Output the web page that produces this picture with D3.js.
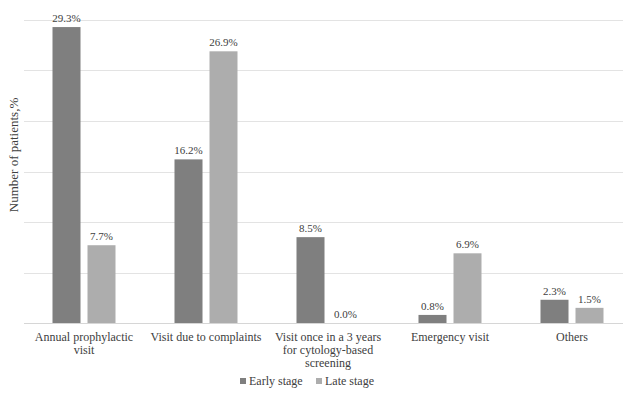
<!DOCTYPE html>
<html>
<head>
<meta charset="utf-8">
<script src="https://cdn.jsdelivr.net/npm/d3@7"></script>
<style>
  body { margin: 0; background: #fff; }
  svg { display: block; }
  svg text { font-family: "Liberation Serif", "DejaVu Serif", serif; }
</style>
</head>
<body>
<svg id="chart" width="623" height="398"></svg>
<script>
// Reasons for visit, by stage at diagnosis (% of patients)
const categories = [
  ["Annual prophylactic", "visit"],
  ["Visit due to complaints"],
  ["Visit once in a 3 years", "for cytology-based", "screening"],
  ["Emergency visit"],
  ["Others"]
];
const seriesNames = ["Early stage", "Late stage"];
const earlyStage = [29.3, 16.2, 8.5, 0.8, 2.3];
const lateStage = [7.7, 26.9, 0.0, 6.9, 1.5];
const yTicks = [0, 5, 10, 15, 20, 25, 30];

const FONT = "Liberation Serif, DejaVu Serif, serif";
const colors = ["#7f7f7f", "#adadad"];
const textColor = "#404040";
const svg = d3.select("#chart");

const x = d3.scaleBand().domain(d3.range(categories.length)).range([23, 633]);
const y = d3.scaleLinear().domain([0, 30]).range([323, 20]);

// gridlines
svg.append("g").selectAll("line").data(yTicks.slice(1)).join("line")
  .attr("x1", 24).attr("x2", 623)
  .attr("y1", d => Math.round(y(d)) + 0.5).attr("y2", d => Math.round(y(d)) + 0.5)
  .attr("stroke", "#e3e3e3").attr("stroke-width", 1);

// baseline
svg.append("line")
  .attr("x1", 24).attr("x2", 623)
  .attr("y1", y(0) + 0.5).attr("y2", y(0) + 0.5)
  .attr("stroke", "#d6d6d6");

const barW = 28, gap = 7;
const series = [earlyStage, lateStage];
const bars = [];
series.forEach((vals, s) => {
  vals.forEach((v, i) => {
    const cx = x(i) + x.bandwidth() / 2;
    const bx = s === 0 ? cx - gap / 2 - barW : cx + gap / 2;
    bars.push({ s, i, v, bx });
  });
});

svg.append("g").selectAll("rect").data(bars).join("rect")
  .attr("x", d => d.bx)
  .attr("y", d => y(d.v))
  .attr("width", barW)
  .attr("height", d => y(0) - y(d.v))
  .attr("fill", d => colors[d.s]);

svg.append("g").selectAll("text").data(bars).join("text")
  .attr("x", d => d.bx + barW / 2)
  .attr("y", d => y(d.v) - 5)
  .attr("text-anchor", "middle")
  .attr("font-family", FONT)
  .attr("font-size", 11)
  .attr("fill", textColor)
  .text(d => d.v.toFixed(1) + "%");

// category labels
const xl = svg.append("g").selectAll("text").data(categories).join("text")
  .attr("x", (d, i) => x(i) + x.bandwidth() / 2)
  .attr("y", 341)
  .attr("text-anchor", "middle")
  .attr("font-family", FONT)
  .attr("font-size", 12)
  .attr("fill", textColor);
xl.selectAll("tspan").data(d => d).join("tspan")
  .attr("x", function () { return this.parentNode.getAttribute("x"); })
  .attr("dy", (d, j) => j === 0 ? 0 : 13)
  .text(d => d);

// y-axis title
svg.append("text")
  .attr("transform", "translate(18,155) rotate(-90)")
  .attr("text-anchor", "middle")
  .attr("font-family", FONT)
  .attr("font-size", 13)
  .attr("fill", textColor)
  .text("Number of patients,%");

// legend
const legend = svg.append("g");
const legendX = [240, 316];
seriesNames.forEach((name, s) => {
  const lx = legendX[s];
  legend.append("rect").attr("x", lx).attr("y", 378).attr("width", 6).attr("height", 6).attr("fill", colors[s]);
  legend.append("text").attr("x", lx + 9).attr("y", 385)
    .attr("font-family", FONT)
    .attr("font-size", 12).attr("fill", textColor).text(name);
});
</script>
</body>
</html>
